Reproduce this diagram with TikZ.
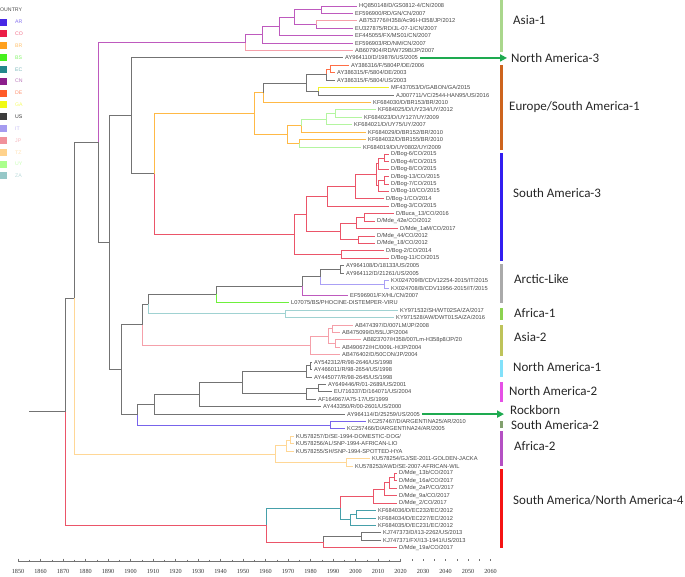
\documentclass[tikz,border=0pt]{standalone}
\usepackage{fontspec}
\setmainfont{Liberation Sans}
\newfontfamily\cladefont{Carlito}
\newfontfamily\axisfont{Liberation Serif}
\usetikzlibrary{calc,arrows.meta}

% legend colours
\definecolor{lAR}{RGB}{70,40,230}
\definecolor{lCO}{RGB}{235,30,70}
\definecolor{lBR}{RGB}{255,160,30}
\definecolor{lBS}{RGB}{70,240,30}
\definecolor{lEC}{RGB}{35,135,140}
\definecolor{lCN}{RGB}{140,30,140}
\definecolor{lDE}{RGB}{255,90,40}
\definecolor{lGA}{RGB}{240,250,20}
\definecolor{lUS}{RGB}{60,60,60}
\definecolor{lIT}{RGB}{165,155,240}
\definecolor{lJP}{RGB}{240,145,155}
\definecolor{lTZ}{RGB}{255,210,140}
\definecolor{lUY}{RGB}{170,255,140}
\definecolor{lZA}{RGB}{150,200,200}
% branch colours
\definecolor{bAR}{RGB}{120,100,235}
\definecolor{bCO}{RGB}{235,85,105}
\definecolor{bBR}{RGB}{255,185,70}
\definecolor{bBS}{RGB}{110,240,60}
\definecolor{bEC}{RGB}{70,160,170}
\definecolor{bCN}{RGB}{190,90,190}
\definecolor{bDE}{RGB}{255,110,70}
\definecolor{bGA}{RGB}{240,240,40}
\definecolor{bUS}{RGB}{115,115,115}
\definecolor{bIT}{RGB}{170,160,245}
\definecolor{bJP}{RGB}{245,160,170}
\definecolor{bTZ}{RGB}{255,215,150}
\definecolor{bUY}{RGB}{180,245,160}
\definecolor{bZA}{RGB}{160,210,210}
\definecolor{tipgray}{RGB}{70,70,70}
\definecolor{arrgreen}{RGB}{30,170,80}

% join two children at a given x, half way between them
\newcommand\jn[4]{\path let \p1=($(#3)!.5!(#4)$) in coordinate (#1) at (#2pt,\y1);}

\begin{document}
\begin{tikzpicture}[x=1pt,y=-1pt,
  tip/.style={anchor=west,inner xsep=2pt,inner ysep=0.5pt,text=tipgray,
    font=\fontsize{5.7}{6}\selectfont},
  edge/.style={line width=0.9pt},
  ar/.style={edge,draw=bAR}, co/.style={edge,draw=bCO}, br/.style={edge,draw=bBR},
  bs/.style={edge,draw=bBS}, ec/.style={edge,draw=bEC}, cn/.style={edge,draw=bCN},
  de/.style={edge,draw=bDE}, ga/.style={edge,draw=bGA}, us/.style={edge,draw=bUS},
  it/.style={edge,draw=bIT}, jp/.style={edge,draw=bJP}, tz/.style={edge,draw=bTZ},
  uy/.style={edge,draw=bUY}, za/.style={edge,draw=bZA},
  clade/.style={anchor=west,inner sep=0pt,text=black!85,
    font=\cladefont\fontsize{13}{15}\selectfont},
  bar/.style={line width=3pt},
  pointer/.style={draw=arrgreen,line width=1.8pt,-{Triangle[length=7pt,width=7pt]}}]
\useasboundingbox (0,0) rectangle (685,576);

% legend
\node[anchor=west,inner sep=0pt,text=black!70,font=\fontsize{5.2}{6}\selectfont] (ltitle) at (0,10) {OUNTRY};
\foreach \c/\tc [count=\k] in {AR/lAR!65!white,CO/lCO!65!white,BR/lBR!65!white,BS/lBS!65!white,
  EC/lEC!60!white,CN/lCN!60!white,DE/lDE!65!white,GA/lGA!65!white,US/lUS,IT/lIT!65!white,
  JP/lJP!65!white,TZ/lTZ!65!white,UY/lUY!65!white,ZA/lZA!65!white}{
  \node[fill=l\c,minimum size=7pt,inner sep=0pt] (sq\c) at (3.5,{22+(\k-1)*11.84}) {};
  \node[anchor=west,inner sep=0pt,text=\tc,font=\fontsize{5.2}{6}\selectfont] (lt\c) at (15,{22+(\k-1)*11.84}) {\c};
}

% tips
\foreach \x/\lab [count=\i] in {359/{HQ850148/D/GS0812-4/CN/2008},355/{EF596900/RD/GN/CN/2007},
 359/{AB753776/H358/Ac96I-H358/JP/2012},355/{EU327875/RD/JL-07-1/CN/2007},
 355/{EF445055/FX/MS01/CN/2007},355/{EF596903/RD/NM/CN/2007},355/{AB607904/RD/W729B/JP/2007},
 345/{AY964110/D/19876/US/2005},351/{AY386316/F/5804P/DE/2006},337/{AY386315/F/5804/DE/2003},
 337/{AY386315/F/5804/US/2003},391/{MF437053/D/GABON/GA/2015},396/{AJ007711/VC/2544-HAN95/US/2016},
 373/{KF684030/D/BR153/BR/2010},378/{KF684025/D/UY234/UY/2012},364/{KF684023/D/UY127/UY/2009},
 354/{KF684021/D/UY75/UY/2007},368/{KF684029/D/BR152/BR/2010},368/{KF684032/D/BR155/BR/2010},
 363/{KF684019/D/UY0802/UY/2009},391/{D/Bog-6/CO/2015},391/{D/Bog-4/CO/2015},
 391/{D/Bog-8/CO/2015},391/{D/Bog-13/CO/2015},391/{D/Bog-7/CO/2015},391/{D/Bog-10/CO/2015},
 386/{D/Bog-1/CO/2014},391/{D/Bog-3/CO/2015},396/{D/Buca\_13/CO/2016},377/{D/Mde\_42e/CO/2012},
 400/{D/Mde\_1aM/CO/2017},377/{D/Mde\_44/CO/2012},377/{D/Mde\_18/CO/2012},386/{D/Bog-2/CO/2014},
 391/{D/Bog-11/CO/2015},346/{AY964108/D/18133/US/2005},346/{AY964112/D/21261/US/2005},
 391/{KX024709/B/CDV12254-2015/IT/2015},391/{KX024708/B/CDV11956-2015/IT/2015},
 350/{EF596901/FX/HL/CN/2007},291/{L07075/BS/PHOCINE-DISTEMPER-VIRU},
 400/{KY971532/SH/WT02SA/ZA/2017},396/{KY971528/AW/DWT01SA/ZA/2016},
 355/{AB474397/D/007LM/JP/2008},342/{AB475099/D/55L/JP/2004},363/{AB823707/H358/007Lm-H358p8/JP/20},
 342/{AB490672/HC/009L-H/JP/2004},342/{AB476402/D/50CON/JP/2004},314/{AY542312/R/98-2646/US/1998},
 314/{AY466011/R/98-2654/US/1998},314/{AY445077/R/98-2645/US/1998},328/{AY649446/R/01-2689/US/2001},
 334/{EU716337/D/164071/US/2004},318/{AF164967/A75-17/US/1999},323/{AY443350/R/00-2601/US/2000},
 347/{AY964114/D/25259/US/2005},368/{KC257467/D/ARGENTINA25/AR/2010},347/{KC257466/D/ARGENTINA24/AR/2005},
 296/{KU578257/D/SE-1994-DOMESTIC-DOG/},296/{KU578256/AL/SNP-1994-AFRICAN-LIO},
 296/{KU578255/SH/SNP-1994-SPOTTED-HYA},372/{KU578254/GJ/SE-2011-GOLDEN-JACKA},
 355/{KU578253/AWD/SE-2007-AFRICAN-WIL},399/{D/Mde\_13b/CO/2017},399/{D/Mde\_16a/CO/2017},
 399/{D/Mde\_2aP/CO/2017},399/{D/Mde\_9a/CO/2017},399/{D/Mde\_2/CO/2017},
 378/{KF684036/D/EC232/EC/2012},378/{KF684034/D/EC227/EC/2012},378/{KF684035/D/EC231/EC/2012},
 383/{KJ747373/D/I13-2262/US/2013},383/{KJ747371/FX/I13-1941/US/2013},399/{D/Mde\_19a/CO/2017}}
  \node[tip] (t\i) at (\x-2,{6+(\i-1)*7.42}) {\lab};

% internal nodes, children first
\jn{a12}{321.7}{t1}{t2} \jn{a34}{316.7}{t3}{t4} \jn{a14}{294}{a12}{a34}
\jn{aq}{279.3}{a14}{t5} \jn{ap1}{262}{aq}{t6} \jn{ap0}{245}{ap1}{t7}
\jn{e5}{330}{t9}{t10} \jn{e3}{326.7}{e5}{t11} \jn{e4}{318.3}{t12}{t13}
\jn{e2}{306.7}{e3}{e4} \jn{e1}{263.3}{e2}{t14}
\jn{u5}{335}{t15}{t16} \jn{u4}{326}{u5}{t17} \jn{u2}{301}{u4}{t18}
\jn{u3}{299}{t19}{t20} \jn{u1}{287.3}{u2}{u3} \jn{e0}{254}{e1}{u1}
\jn{s7a}{384}{t21}{t22} \jn{s7}{378.7}{s7a}{t23} \jn{s8a}{384}{t24}{t25}
\jn{s8}{378.7}{s8a}{t26} \jn{s6}{376}{s7}{s8} \jn{s5}{355}{s6}{t27}
\jn{s3}{327.3}{s5}{t28} \jn{s10a}{364.3}{t29}{t30} \jn{s10}{356.7}{s10a}{t31}
\jn{s11}{358}{t32}{t33} \jn{s4}{340}{s10}{s11} \jn{s2}{306}{s3}{s4}
\jn{s9}{341.7}{t34}{t35} \jn{s1}{294.3}{s2}{s9}
\jn{b4}{154}{e0}{s1} \jn{b3}{131.7}{t8}{b4}
\jn{r3}{340}{t36}{t37} \jn{r4}{384}{t38}{t39} \jn{r2}{320.7}{r3}{r4}
\jn{r1}{302.7}{r2}{t40} \jn{c3}{216.7}{r1}{t41} \jn{z1}{285}{t42}{t43}
\jn{c2}{148.3}{c3}{z1} \jn{j3}{332.7}{t44}{t45} \jn{j4}{335}{t46}{t47}
\jn{j2}{328.3}{j3}{j4} \jn{j1}{310}{j2}{t48} \jn{c1}{142.7}{c2}{j1}
\jn{m1a}{310}{t49}{t50} \jn{m1}{306.7}{m1a}{t51} \jn{m2a}{318.3}{t52}{t53}
\jn{m2}{306.7}{m2a}{t54} \jn{d4}{242.7}{m1}{m2} \jn{d3}{199}{d4}{t55}
\jn{d2}{154.3}{d3}{t56} \jn{g1}{330}{t57}{t58} \jn{d1}{137.3}{d2}{g1}
\jn{b9}{121}{c1}{d1} \jn{b2}{109.3}{b3}{b9} \jn{b1}{98.7}{ap0}{b2}
\jn{f2a}{290}{t59}{t60} \jn{f2}{286}{f2a}{t61} \jn{f3}{346.7}{t62}{t63}
\jn{f1}{275}{f2}{f3} \jn{a0}{74.7}{b1}{f1}
\jn{w4c}{394}{t64}{t65} \jn{w4b}{389.3}{w4c}{t66} \jn{w4a}{384.3}{w4b}{t67}
\jn{w4}{373.3}{w4a}{t68} \jn{w5a}{356.7}{t69}{t70} \jn{w5}{350}{w5a}{t71}
\jn{w2}{340}{w4}{w5} \jn{w6}{361}{t72}{t73} \jn{w3}{323.3}{w6}{t74}
\jn{w1}{266.7}{w2}{w3} \jn{r0}{65}{a0}{w1}

% branches
\draw[cn] (a12) |- (t1.west) (a12) |- (t2.west) (a34) |- (t4.west) (a14) |- (a12) (a14) |- (a34)
  (aq) |- (a14) (aq) |- (t5.west) (ap1) |- (aq) (ap1) |- (t6.west) (ap0) |- (ap1) (b1) |- (ap0);
\draw[jp] (a34) |- (t3.west) (ap0) |- (t7.west);
\draw[de] (e5) |- (t9.west) (e5) |- (t10.west) (e3) |- (e5);
\draw[us] (e3) |- (t11.west) (e4) |- (t13.west) (e2) |- (e3) (e2) |- (e4) (e1) |- (e2);
\draw[ga] (e4) |- (t12.west);
\draw[uy] (u5) |- (t15.west) (u5) |- (t16.west) (u4) |- (u5) (u4) |- (t17.west) (u2) |- (u4)
  (u3) |- (t20.west);
\draw[br] (e1) |- (t14.west) (e0) |- (e1) (u2) |- (t18.west) (u3) |- (t19.west) (u1) |- (u2)
  (u1) |- (u3) (e0) |- (u1) (b4) |- (e0);
\draw[co] (s7a) |- (t21.west) (s7a) |- (t22.west) (s7) |- (s7a) (s7) |- (t23.west)
  (s8a) |- (t24.west) (s8a) |- (t25.west) (s8) |- (s8a) (s8) |- (t26.west)
  (s6) |- (s7) (s6) |- (s8) (s5) |- (s6) (s5) |- (t27.west) (s3) |- (s5) (s3) |- (t28.west)
  (s10a) |- (t29.west) (s10a) |- (t30.west) (s10) |- (s10a) (s10) |- (t31.west)
  (s11) |- (t32.west) (s11) |- (t33.west) (s4) |- (s10) (s4) |- (s11) (s2) |- (s3) (s2) |- (s4)
  (s9) |- (t34.west) (s9) |- (t35.west) (s1) |- (s2) (s1) |- (s9) (b4) |- (s1);
\draw[us] (b3) |- (t8.west) (b3) |- (b4) (b2) |- (b3);
\draw[us] (r3) |- (t36.west) (r3) |- (t37.west) (r2) |- (r3) (r1) |- (r2) (c3) |- (r1) (c2) |- (c3)
  (c1) |- (c2);
\draw[it] (r4) |- (t38.west) (r4) |- (t39.west) (r2) |- (r4);
\draw[cn] (r1) |- (t40.west);
\draw[bs] (c3) |- (t41.west);
\draw[za] (z1) |- (t42.west) (z1) |- (t43.west) (c2) |- (z1);
\draw[jp] (j3) |- (t44.west) (j3) |- (t45.west) (j4) |- (t46.west) (j4) |- (t47.west)
  (j2) |- (j3) (j2) |- (j4) (j1) |- (j2) (j1) |- (t48.west) (c1) |- (j1);
\draw[us] (m1a) |- (t49.west) (m1a) |- (t50.west) (m1) |- (m1a) (m1) |- (t51.west)
  (m2a) |- (t52.west) (m2a) |- (t53.west) (m2) |- (m2a) (m2) |- (t54.west)
  (d4) |- (m1) (d4) |- (m2) (d3) |- (d4) (d3) |- (t55.west) (d2) |- (d3) (d2) |- (t56.west)
  (d1) |- (d2) (b9) |- (c1) (b9) |- (d1) (b2) |- (b9) (b1) |- (b2) (a0) |- (b1) (r0) |- (a0);
\draw[ar] (g1) |- (t57.west) (g1) |- (t58.west) (d1) |- (g1);
\draw[tz] (f2a) |- (t59.west) (f2a) |- (t60.west) (f2) |- (f2a) (f2) |- (t61.west)
  (f3) |- (t62.west) (f3) |- (t63.west) (f1) |- (f2) (f1) |- (f3) (a0) |- (f1);
\draw[co] (w4c) |- (t64.west) (w4c) |- (t65.west) (w4b) |- (w4c) (w4b) |- (t66.west)
  (w4a) |- (w4b) (w4a) |- (t67.west) (w4) |- (w4a) (w4) |- (t68.west) (w2) |- (w4)
  (w3) |- (t74.west) (w1) |- (w3) (r0) |- (w1);
\draw[ec] (w5a) |- (t69.west) (w5a) |- (t70.west) (w5) |- (w5a) (w5) |- (t71.west)
  (w2) |- (w5) (w1) |- (w2);
\draw[us] (w6) |- (t72.west) (w6) |- (t73.west) (w3) |- (w6);
\draw[us] (r0) -- ++(-36,0);

% clade bars and labels
\draw[bar,draw={rgb,255:red,170;green,215;blue,140}] (501,0) -- (501,52);
\draw[bar,draw={rgb,255:red,205;green,100;blue,30}] (501,65) -- (501,150);
\draw[bar,draw={rgb,255:red,50;green,30;blue,240}] (501,153) -- (501,261);
\draw[bar,draw={rgb,255:red,170;green,170;blue,170}] (501,264) -- (501,303);
\draw[bar,draw={rgb,255:red,140;green,210;blue,80}] (501,308) -- (501,320);
\draw[bar,draw={rgb,255:red,190;green,195;blue,90}] (501,325) -- (501,356);
\draw[bar,draw={rgb,255:red,130;green,225;blue,250}] (501,360) -- (501,377);
\draw[bar,draw={rgb,255:red,230;green,80;blue,230}] (501,382) -- (501,402);
\draw[bar,draw={rgb,255:red,130;green,160;blue,110}] (501,421) -- (501,428);
\draw[bar,draw={rgb,255:red,180;green,80;blue,195}] (501,431) -- (501,466);
\draw[bar,draw={rgb,255:red,245;green,20;blue,20}] (501,469) -- (501,548);

\node[clade] (lAsia1) at (513,20) {Asia-1};
\node[clade] (lNA3) at (511,58) {North America-3};
\node[clade] (lEuSA1) at (509,107) {Europe/South America-1};
\node[clade] (lSA3) at (513,193) {South America-3};
\node[clade] (lArctic) at (514,279) {Arctic-Like};
\node[clade] (lAfr1) at (514,313) {Africa-1};
\node[clade] (lAsia2) at (514,337) {Asia-2};
\node[clade] (lNA1) at (513,367) {North America-1};
\node[clade] (lNA2) at (509,391) {North America-2};
\node[clade] (lRock) at (510,410) {Rockborn};
\node[clade] (lSA2) at (511,425) {South America-2};
\node[clade] (lAfr2) at (514,446) {Africa-2};
\node[clade] (lSANA4) at (513,500) {South America/North America-4};

\draw[pointer,shorten >=4pt] (t8.east) -- (t8.east -| lNA3.west);
\draw[pointer,shorten >=6pt] (t56.east) -- (t56.east -| lRock.west);

% time axis
\draw[bUS,line width=0.6pt] (18,561) -- (400.5,561);
\foreach \yr in {1850,1860,...,2020}
  \draw[bUS,line width=0.5pt] ({18+(\yr-1850)*2.25},558.5) -- ({18+(\yr-1850)*2.25},561);
\foreach \yr in {1855,1865,...,2015}
  \draw[bUS,line width=0.4pt] ({18+(\yr-1850)*2.25},559.5) -- ({18+(\yr-1850)*2.25},561);
\foreach \yr in {2025,2030,...,2060}
  \draw[bUS,line width=0.5pt] ({18+(\yr-1850)*2.25},559) -- ({18+(\yr-1850)*2.25},560.5);
\foreach \yr in {1850,1860,...,2060}
  \node[inner sep=0pt,text=black!80,font=\axisfont\fontsize{6.2}{7}\selectfont] (yr\yr)
    at ({18+(\yr-1850)*2.25},571) {\yr};
\end{tikzpicture}
\end{document}
